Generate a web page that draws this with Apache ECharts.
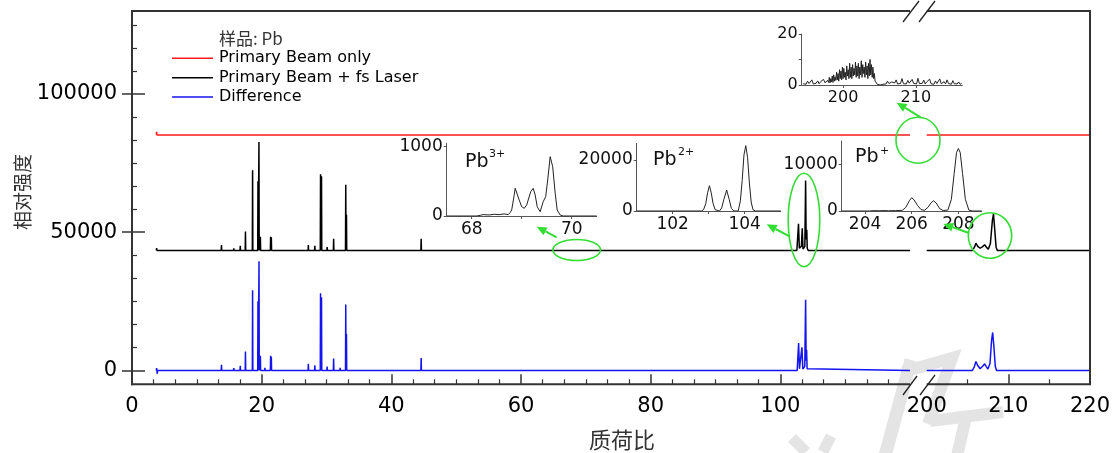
<!DOCTYPE html>
<html><head><meta charset="utf-8">
<script src="https://cdn.jsdelivr.net/npm/echarts@6/dist/echarts.min.js"></script>
<style>html,body{margin:0;padding:0;background:#fff}#c{width:1116px;height:453px}</style>
</head><body><div id="c"></div>
<script>
// ---------------- DATA ----------------
const seriesNames = ['Primary Beam only', 'Primary Beam + fs Laser', 'Difference'];
const sampleLabel = '样品: Pb';
const xTitle = '质荷比';
const yTitle = '相对强度';
const xTicksLeft = [0, 20, 40, 60, 80, 100];
const xTicksRight = [200, 210, 220];
const yTicksMain = [0, 50000, 100000];

// baselines of the stacked traces
const redBase = 85200;
const blackBase = 43400;
const blueBase = 0;

// red: Primary Beam only  [m/z, height above its baseline]
const redSticksL = [[3.8,1100],[19.5,300],[28.3,400],[38.8,400],[44.0,300],[55.5,250]];
const redSticksR = [[204.0,500]];

// black: Primary Beam + fs Laser
const blackPeaksL = [[3.8,900],[8.0,200],[11.0,200],[13.8,2000],[14.8,500],[15.7,800],[16.7,1700],[17.5,6900],
  [18.6,29000],[19.43,25000],[19.58,39200],[19.8,5000],[20.5,700],[21.38,5000],[21.49,4800],[24.5,300],[25.4,400],
  [26.3,300],[27.2,2000],[28.2,1700],[29.08,27600],[29.23,26800],[30.1,1200],[31.1,4200],[32.1,600],[32.97,23800],
  [33.08,12900],[44.6,4200]];
const blackNoiseL = [[5.5,250],[6.6,200],[7.5,300],[9.6,250],[10.5,200],[12.0,300],[12.6,350],[22.5,350],[23.4,300],
  [26.8,250],[34.1,300],[35.2,400],[36.2,300],[37.1,450],[38.0,350],[39.1,500],[40.0,400],[41.0,450],[42.0,350],
  [43.0,500],[44.0,300],[45.6,500],[46.5,400],[47.5,350],[48.5,450],[49.5,300],[50.5,400],[51.5,350],[52.5,450],
  [53.5,300],[54.5,400],[55.5,350],[56.5,450],[57.5,300],[58.5,400],[59.5,350],[60.5,500],[61.5,350],[62.5,400],
  [63.5,300],[64.5,450],[65.5,350],[66.5,400],[67.5,300],[68.5,450],[69.4,700],[70.2,400],[71.5,350],[72.5,450],
  [73.5,300],[74.5,400],[75.5,350],[76.5,300],[77.5,400],[78.5,350],[79.5,300],[80.5,400],[81.5,350],[82.5,300],
  [83.5,400],[84.5,350],[85.5,300],[86.5,400],[87.5,350],[88.5,300],[89.5,350],[90.5,300],[92.5,400],[93.5,350],
  [94.5,500],[96.5,600],[97.5,500],[98.5,700],[99.5,400],[100.5,300],[101.5,500],[105.5,300],[107.5,350],
  [109.5,500],[110.5,600],[111.5,500],[112.5,400],[113.5,350],[115.5,300],[117.5,300]];
const blackPb2Cluster = [[102.55,0],[102.7,300],[102.8,9650],[102.93,800],[103.1,400],[103.25,1500],[103.38,8000],
  [103.5,500],[103.65,300],[103.78,1500],[103.9,25300],[103.98,4000],[104.08,7500],[104.15,800],[104.3,0]];
const blackNoiseR = [[200.5,300],[201.5,400],[202.3,350],[203.2,300],[204.0,400],[212.0,250]];
const blackPbCluster = [[205.6,0],[205.85,1200],[206.03,2640],[206.25,1500],[206.55,800],[206.85,1400],[207.1,2060],
  [207.3,1200],[207.55,470],[207.8,2500],[208.05,11000],[208.18,13270],[208.32,8000],[208.5,1200],[208.65,0]];

// blue: Difference
const bluePeaksL = [[3.8,900],[3.9,-1200],[8.3,300],[13.8,2100],[14.1,600],[14.9,400],[15.7,900],[16.7,1700],
  [17.5,6900],[18.6,29000],[19.43,25000],[19.59,39500],[19.8,5300],[20.5,1000],[21.38,5300],[21.49,5000],[25.2,350],
  [26.1,350],[27.2,2400],[28.2,1900],[29.08,27900],[29.23,26500],[30.1,1400],[31.1,4300],[32.1,1000],[32.97,23900],
  [33.08,13200],[35.5,200],[36.9,300],[37.6,300],[38.7,350],[39.7,400],[40.7,500],[41.7,400],[42.8,350],[43.8,400],
  [44.6,4500],[45.6,300],[46.6,500],[69.4,600]];
const bluePb2Cluster = [[101.55,0],[101.7,350],[101.85,0],[102.6,0],[102.7,400],[102.82,9900],[102.95,600],[103.1,300],
  [103.22,1200],[103.33,8400],[103.47,500],[103.62,300],[103.77,1500],[103.9,25600],[103.98,3500],[104.05,7500],
  [104.13,600],[104.25,0]];
const bluePbCluster = [[205.6,0],[205.85,1500],[206.03,3260],[206.25,1800],[206.55,600],[206.85,1500],[207.1,2400],
  [207.3,1400],[207.5,500],[207.75,2500],[207.95,11000],[208.08,13750],[208.22,9000],[208.4,1500],[208.55,0]];

// inset spectra
const insetPb3 = [[67.5,0],[68.1,0],[68.17,10],[68.23,20],[68.35,15],[68.45,25],[68.55,20],[68.65,30],[68.73,20],
  [68.77,50],[68.8,87],[68.85,300],[68.87,400],[68.9,423],[68.95,230],[69.0,135],[69.05,110],[69.1,160],[69.18,350],
  [69.23,400],[69.27,303],[69.31,135],[69.37,62],[69.43,207],[69.48,279],[69.52,519],[69.57,856],[69.59,880],
  [69.62,711],[69.67,327],[69.71,87],[69.77,14],[69.83,0],[70.5,0]];
const insetPb2 = [[101,0],[102.8,0],[102.86,600],[102.92,3000],[102.97,7200],[103.02,9900],[103.07,7200],[103.12,3000],
  [103.18,500],[103.3,0],[103.36,1200],[103.42,4500],[103.5,8200],[103.57,4500],[103.63,1000],[103.7,0],[103.82,0],
  [103.88,4000],[103.93,12000],[103.98,22000],[104.03,25600],[104.08,21000],[104.13,11000],[104.18,3500],[104.23,500],
  [104.3,0],[105,0]];
const insetPb1 = [[203,0],[204.2,0],[204.4,80],[204.6,40],[204.8,100],[205.0,50],[205.3,80],[205.6,150],[205.75,800],
  [205.9,2200],[206.0,2850],[206.1,2400],[206.25,1200],[206.4,300],[206.55,150],[206.7,800],[206.82,1700],[206.93,2200],
  [207.05,1700],[207.2,500],[207.35,100],[207.55,200],[207.7,2500],[207.82,8000],[207.92,12500],[208.0,13400],
  [208.08,12500],[208.18,8000],[208.3,2500],[208.45,200],[208.6,0],[209,0]];
// background (primary beam only) around the Pb+ region, sampled on regular m/z steps
const bgA_start = 194.5, bgA_step = 0.2;
const bgA = [0.5,1.2,0.3,1.5,0.6,0.9,2.0,0.4,1.1,0.7,1.6,0.5,1.3,0.8,2.2,0.9,1.4,1.8];
const bgB_start = 198.0, bgB_step = 0.1;
const bgB = [1.0,3.0,0.8,2.5,1.2,3.5,1.0,4.0,1.5,3.2, 1.8,5.0,2.0,4.5,1.5,6.0,2.5,5.5,2.0,7.0,
  2.5,6.5,3.0,5.0,2.0,7.5,3.5,6.0,2.5,8.5, 3.0,7.0,2.5,8.0,3.5,6.5,4.0,9.0,3.0,7.5,
  3.5,8.5,2.5,7.0,4.0,9.5,3.0,8.0,4.5,7.0, 3.0,9.0,4.0,7.5,2.5,8.5,3.5,10.0,4.0,8.0,
  3.0,7.0,2.5,4.5,1.5,2.0,0.8,0.3];
const bgC_start = 204.9, bgC_step = 0.2;
const bgC = [0.2,0.0,0.5,0.3,1.0,0.4,1.5,0.6,0.3,1.2, 0.5,0.8,2.0,0.4,0.9,0.6,2.5,0.5,1.0,0.4,
  1.8,0.7,0.3,2.2,0.6,1.1,0.4,2.6,0.5,0.9, 0.7,1.9,0.4,1.2,0.6,2.3,0.5,0.8,0.3,1.6,
  0.6,1.0,2.4,0.5,0.7,1.3,0.4,2.0,0.6,0.9, 0.3,1.7,0.5,0.8,0.4,1.2,0.3,0.6];

// ---------------- BUILD ----------------
function trace(x0, x1, base, sticks, profile) {
  const w = 0.04;
  const pts = [[x0, base], [x1, base]];
  sticks.forEach(([m, h]) => { pts.push([m - w, base], [m, base + h], [m + w, base]); });
  (profile || []).forEach(([m, h]) => pts.push([m, base + h]));
  pts.sort((a, b) => a[0] - b[0]);
  return pts;
}
function sampled(start, step, vals) { return vals.map((v, i) => [+(start + i * step).toFixed(3), v]); }
const bgData = sampled(bgA_start, bgA_step, bgA).concat(sampled(bgB_start, bgB_step, bgB), sampled(bgC_start, bgC_step, bgC));

const F = '"DejaVu Sans", "Liberation Sans", sans-serif';
const CJK = '"Noto Sans CJK SC", sans-serif';
const RED = '#ff1a1a', BLUE = '#1414f0', BLACK = '#000', GREEN = '#33dd33';
const FRAME = '#333';

const minorX = []; for (let k = 1; k < 36; k++) if (k % 6) minorX.push(k * 20 / 6);
const minorY = []; for (let k = 1; k <= 15; k++) if (k % 6) minorY.push(k * 50000 / 6);
const fmt = v => String(v);

function mainLine(name, color, data, xi, yi, z) {
  return { name, type: 'line', xAxisIndex: xi, yAxisIndex: yi, data, symbol: 'none', silent: true, z,
    lineStyle: { color, width: 1.5 }, itemStyle: { color }, animation: false };
}
function insetLine(data, xi, yi) {
  return { type: 'line', xAxisIndex: xi, yAxisIndex: yi, data, symbol: 'none', silent: true, z: 5,
    lineStyle: { color: '#222', width: 1 }, animation: false };
}
function insetX(grid, min, max, labels, ticks, fs) {
  return { type: 'value', gridIndex: grid, min, max, position: 'bottom',
    axisLine: { show: true, onZero: false, lineStyle: { color: '#555', width: 1 } },
    axisTick: { show: true, inside: false, length: 3, customValues: ticks, lineStyle: { color: '#555', width: 1 } },
    axisLabel: { customValues: labels, formatter: fmt, fontFamily: F, fontSize: fs, color: '#111', margin: 5 },
    splitLine: { show: false } };
}
function insetY(grid, min, max, labels, ticks, fs) {
  return { type: 'value', gridIndex: grid, min, max, position: 'left',
    axisLine: { show: true, onZero: false, lineStyle: { color: '#555', width: 1 } },
    axisTick: { show: true, inside: false, length: 3, customValues: ticks, lineStyle: { color: '#555', width: 1 } },
    axisLabel: { customValues: labels, formatter: fmt, fontFamily: F, fontSize: fs, color: '#111', margin: 4 },
    splitLine: { show: false } };
}

const gridBase = { outerBoundsMode: 'none', containLabel: false };
const GL = { left: 132, top: 11, width: 778, height: 373.3 };
const GR = { left: 926.7, top: 11, width: 163.3, height: 373.3 };
const grids = [
  GL, GR,
  { left: 446.7, top: 143.2, width: 150, height: 72.8 },
  { left: 636.7, top: 143.4, width: 144, height: 67.6 },
  { left: 841.7, top: 141, width: 140, height: 70 },
  { left: 801.7, top: 34, width: 160.6, height: 51 }
].map(g => Object.assign({}, gridBase, g));

const mainLabel = { fontFamily: F, fontSize: 21, color: '#000', formatter: fmt };
const noLine = { show: false, onZero: false };
function tickAxis(dim, grid, min, max, pos, ticks, len, inside, w, labels) {
  return { type: 'value', gridIndex: grid, min, max, position: pos, axisLine: noLine,
    axisTick: { show: true, inside, length: len, customValues: ticks, lineStyle: { color: FRAME, width: w } },
    axisLabel: labels ? Object.assign({ customValues: labels, margin: dim === 'x' ? 12 : 15 }, mainLabel) : { show: false },
    splitLine: { show: false } };
}
const xAxes = [
  tickAxis('x', 0, 0, 120, 'bottom', xTicksLeft, 10, true, 1.5, xTicksLeft),
  tickAxis('x', 1, 200, 220, 'bottom', [210], 10, true, 1.5, xTicksRight),
  tickAxis('x', 0, 0, 120, 'bottom', minorX, 5, true, 1.2, null),
  tickAxis('x', 1, 200, 220, 'bottom', [205, 215], 5, true, 1.2, null),
  insetX(2, 67.5, 70.5, [68, 70], [68, 69, 70], 17),
  insetX(3, 101, 105, [102, 104], [102, 103, 104], 17),
  insetX(4, 203, 209, [204, 206, 208], [204, 206, 208], 17),
  insetX(5, 194.3, 216.4, [200, 210], [200, 210], 16)
];
const yAxes = [
  tickAxis('y', 0, -5000, 130000, 'left', yTicksMain, 13, true, 1.5, yTicksMain),
  tickAxis('y', 0, -5000, 130000, 'left', yTicksMain, 10, false, 1.5, null),
  tickAxis('y', 0, -5000, 130000, 'left', minorY, 5, true, 1.2, null),
  tickAxis('y', 1, -5000, 130000, 'right', [], 5, true, 1.2, null),
  insetY(2, 0, 1050, [0, 1000], [0, 1000], 17),
  insetY(3, 0, 26500, [0, 20000], [0, 20000], 17),
  insetY(4, 0, 15000, [0, 10000], [0, 10000], 17),
  insetY(5, 0, 20, [0, 20], [0, 10, 20], 16)
];
// xAxis indices: 0 main-left, 1 main-right, 4..7 insets ; yAxis: 0 main-left, 3 main-right, 4..7 insets
const series = [
  mainLine(seriesNames[0], RED, trace(3.75, 120, redBase, redSticksL), 0, 0, 3),
  mainLine(seriesNames[0], RED, trace(200, 220, redBase, redSticksR), 1, 3, 3),
  mainLine(seriesNames[1], BLACK, trace(3.75, 120, blackBase, blackPeaksL.concat(blackNoiseL), blackPb2Cluster), 0, 0, 4),
  mainLine(seriesNames[1], BLACK, trace(200, 220, blackBase, blackNoiseR, blackPbCluster), 1, 3, 4),
  mainLine(seriesNames[2], BLUE, trace(3.75, 120, blueBase, bluePeaksL, bluePb2Cluster), 0, 0, 4),
  mainLine(seriesNames[2], BLUE, trace(200, 220, blueBase, [], bluePbCluster), 1, 3, 4),
  insetLine(insetPb3, 4, 4),
  insetLine(insetPb2, 5, 5),
  insetLine(insetPb1, 6, 6),
  insetLine(bgData, 7, 7)
];

// ---------------- GRAPHICS (frame + annotations) ----------------
function arrow(x1, y1, x2, y2) {
  const dx = x2 - x1, dy = y2 - y1, L = Math.hypot(dx, dy), ux = dx / L, uy = dy / L;
  const hl = 10, hw = 4.5, bx = x2 - ux * hl, by = y2 - uy * hl;
  return [
    { type: 'line', shape: { x1, y1, x2: bx, y2: by }, style: { stroke: GREEN, lineWidth: 2 }, z: 20 },
    { type: 'polygon', shape: { points: [[x2, y2], [bx - uy * hw, by + ux * hw], [bx + uy * hw, by - ux * hw]] }, style: { fill: GREEN }, z: 20 }
  ];
}
function ell(cx, cy, rx, ry) {
  return { type: 'ellipse', shape: { cx, cy, rx, ry }, style: { fill: 'none', stroke: GREEN, lineWidth: 1.6 }, z: 20 };
}
function txt(x, y, text, font, fill, align, extra) {
  return Object.assign({ type: 'text', x, y, z: 20, style: { text, font, fill, textAlign: align || 'left', textVerticalAlign: 'middle' } }, extra || {});
}
function ln(x1, y1, x2, y2, stroke, w, z) {
  return { type: 'line', shape: { x1, y1, x2, y2 }, style: { stroke, lineWidth: w }, z: z || 20 };
}
const T = GL.top, B = GL.top + GL.height, L0 = GL.left, R0 = GL.left + GL.width, L1 = GR.left, R1 = GR.left + GR.width;
const WM = '#e4e4e4';
const graphics = [
  // faint watermark strokes
  { type: 'polyline', shape: { points: [[885, 456], [911, 360]] }, style: { stroke: WM, lineWidth: 13, fill: 'none' }, z: -5 },
  { type: 'polyline', shape: { points: [[903, 372], [952, 358], [928, 424]] }, style: { stroke: WM, lineWidth: 12, fill: 'none' }, z: -5 },
  { type: 'polyline', shape: { points: [[930, 421], [1003, 412]] }, style: { stroke: WM, lineWidth: 12, fill: 'none' }, z: -5 },
  { type: 'polyline', shape: { points: [[966, 417], [957, 456]] }, style: { stroke: WM, lineWidth: 12, fill: 'none' }, z: -5 },
  { type: 'polyline', shape: { points: [[792, 438], [806, 452]] }, style: { stroke: WM, lineWidth: 11, fill: 'none' }, z: -5 },
  { type: 'polyline', shape: { points: [[831, 436], [823, 452]] }, style: { stroke: WM, lineWidth: 11, fill: 'none' }, z: -5 },
  // plot frame (broken x axis)
  ln(L0, T, L0, B + 1, FRAME, 2), ln(L0 - 1, B, R0, B, FRAME, 2), ln(L0 - 1, T, R0, T, FRAME, 2),
  ln(L1, B, R1 + 1, B, FRAME, 2), ln(L1, T, R1 + 1, T, FRAME, 2), ln(R1, T, R1, B, FRAME, 2),
  // axis break marks
  ln(903, 395, 917, 376, '#222', 1.3), ln(920, 395, 935, 375, '#222', 1.3),
  ln(903, 22, 919, 1, '#222', 1.3), ln(919, 22, 935, 1, '#222', 1.3),
  // legend
  txt(219, 39, sampleLabel, '17px ' + CJK, '#333'),
  ln(172, 58.3, 213, 58.3, RED, 1.5), txt(219, 58.3, seriesNames[0], '16px ' + F, '#000'),
  ln(172, 77.7, 213, 77.7, BLACK, 1.5), txt(219, 77.7, seriesNames[1], '16px ' + F, '#000'),
  ln(172, 97, 213, 97, BLUE, 1.5), txt(219, 97, seriesNames[2], '16px ' + F, '#000'),
  // axis titles
  txt(622, 440, xTitle, '22px ' + CJK, '#333', 'center'),
  txt(23, 192, yTitle, '19px ' + CJK, '#333', 'center', { rotation: Math.PI / 2 }),
  // inset labels
  txt(465, 162, 'Pb', '19px ' + F, '#111'), txt(489, 154, '3+', '11px ' + F, '#111'),
  txt(653, 160, 'Pb', '19px ' + F, '#111'), txt(678, 152, '2+', '11px ' + F, '#111'),
  txt(855, 157, 'Pb', '19px ' + F, '#111'), txt(880, 151, '+', '11px ' + F, '#111'),
  // green highlights
  ell(576.7, 250, 23.8, 10.5), ell(804, 220, 15.8, 46.7), ell(990, 235.5, 21.7, 22.8), ell(918, 140.3, 22, 23)
].concat(arrow(556.7, 237.3, 536.7, 226.7), arrow(790, 236.7, 766.7, 224.3), arrow(968.3, 232.7, 943.3, 224), arrow(920.7, 117.3, 896.7, 102.7));

const chart = echarts.init(document.getElementById('c'), null, { renderer: 'canvas' });
chart.setOption({
  animation: false,
  backgroundColor: '#fff',
  grid: grids,
  xAxis: xAxes,
  yAxis: yAxes,
  series,
  graphic: { elements: graphics }
});
</script></body></html>
